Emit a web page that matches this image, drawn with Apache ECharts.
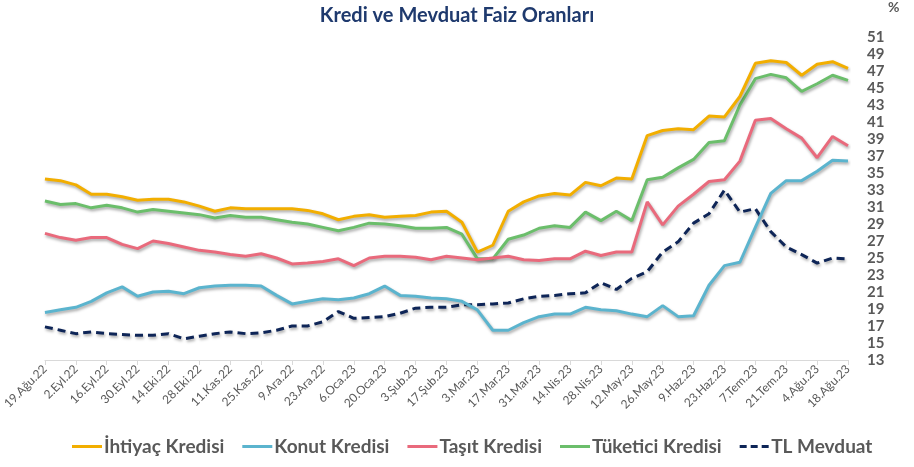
<!DOCTYPE html>
<html>
<head>
<meta charset="utf-8">
<script src="https://cdn.jsdelivr.net/npm/echarts@6/dist/echarts.min.js"></script>
<style>
  html, body { margin: 0; padding: 0; background: #fff; }
  #chart { width: 914px; height: 467px; }
</style>
</head>
<body>
<div id="chart"></div>
<script>
// Weekly dates, 19 Aug 2022 – 18 Aug 2023
const dates = [
  '19.Ağu.22','26.Ağu.22','2.Eyl.22','9.Eyl.22','16.Eyl.22','23.Eyl.22','30.Eyl.22','7.Eki.22','14.Eki.22','21.Eki.22',
  '28.Eki.22','4.Kas.22','11.Kas.22','18.Kas.22','25.Kas.22','2.Ara.22','9.Ara.22','16.Ara.22','23.Ara.22','30.Ara.22',
  '6.Oca.23','13.Oca.23','20.Oca.23','27.Oca.23','3.Şub.23','10.Şub.23','17.Şub.23','24.Şub.23','3.Mar.23','10.Mar.23',
  '17.Mar.23','24.Mar.23','31.Mar.23','7.Nis.23','14.Nis.23','21.Nis.23','28.Nis.23','5.May.23','12.May.23','19.May.23',
  '26.May.23','2.Haz.23','9.Haz.23','16.Haz.23','23.Haz.23','30.Haz.23','7.Tem.23','14.Tem.23','21.Tem.23','28.Tem.23',
  '4.Ağu.23','11.Ağu.23','18.Ağu.23'
];

const ihtiyac = [
  34.3, 34.1, 33.6, 32.5, 32.5, 32.2, 31.8, 31.9, 31.9, 31.6,
  31.1, 30.5, 30.9, 30.8, 30.8, 30.8, 30.8, 30.6, 30.2, 29.5,
  29.9, 30.1, 29.8, 29.9, 30.0, 30.4, 30.5, 29.2, 25.7, 26.5,
  30.5, 31.6, 32.3, 32.6, 32.4, 33.9, 33.5, 34.4, 34.3, 39.4,
  40.0, 40.2, 40.1, 41.7, 41.6, 44.0, 47.9, 48.2, 48.0, 46.5,
  47.8, 48.1, 47.3
];

const konut = [
  18.6, 18.9, 19.2, 19.9, 20.9, 21.6, 20.5, 21.0, 21.1, 20.8,
  21.5, 21.7, 21.8, 21.8, 21.7, 20.6, 19.6, 19.9, 20.2, 20.1,
  20.3, 20.8, 21.7, 20.6, 20.5, 20.3, 20.2, 19.9, 18.9, 16.5,
  16.5, 17.4, 18.1, 18.4, 18.4, 19.2, 18.9, 18.8, 18.4, 18.1,
  19.4, 18.1, 18.2, 21.8, 24.1, 24.5, 28.6, 32.6, 34.1, 34.1,
  35.2, 36.5, 36.4
];

const tasit = [
  27.9, 27.4, 27.1, 27.4, 27.4, 26.6, 26.1, 27.0, 26.7, 26.3,
  25.9, 25.7, 25.4, 25.2, 25.5, 25.0, 24.3, 24.4, 24.6, 24.9,
  24.1, 25.0, 25.2, 25.2, 25.1, 24.8, 25.2, 25.0, 24.8, 25.0,
  25.2, 24.8, 24.7, 24.9, 24.9, 25.8, 25.3, 25.7, 25.7, 31.6,
  28.9, 31.1, 32.5, 34.0, 34.2, 36.4, 41.2, 41.4, 40.2, 39.1,
  36.8, 39.3, 38.2
];

const tuketici = [
  31.7, 31.3, 31.4, 30.9, 31.2, 30.9, 30.4, 30.7, 30.5, 30.3,
  30.1, 29.7, 30.0, 29.8, 29.8, 29.5, 29.2, 29.0, 28.6, 28.2,
  28.6, 29.1, 29.0, 28.8, 28.5, 28.5, 28.6, 27.8, 24.9, 24.9,
  27.2, 27.7, 28.5, 28.8, 28.6, 30.4, 29.4, 30.5, 29.4, 34.2,
  34.5, 35.6, 36.6, 38.6, 38.8, 43.0, 46.1, 46.6, 46.2, 44.6,
  45.5, 46.5, 45.9
];

const tlMevduat = [
  16.9, 16.5, 16.1, 16.3, 16.1, 16.0, 15.9, 15.9, 16.1, 15.5,
  15.8, 16.1, 16.3, 16.1, 16.2, 16.5, 17.0, 17.0, 17.5, 18.7,
  17.9, 18.0, 18.1, 18.5, 19.1, 19.2, 19.2, 19.5, 19.5, 19.6,
  19.7, 20.2, 20.5, 20.6, 20.8, 20.9, 22.1, 21.3, 22.6, 23.4,
  25.7, 26.9, 29.1, 30.2, 33.0, 30.4, 30.8, 28.1, 26.3, 25.4,
  24.4, 25.0, 24.9
];

const seriesNames = ['İhtiyaç Kredisi', 'Konut Kredisi', 'Taşıt Kredisi', 'Tüketici Kredisi', 'TL Mevduat'];
const seriesData = [ihtiyac, konut, tasit, tuketici, tlMevduat];
const seriesColors = ['#F2AE00', '#5BB4CE', '#E96A7C', '#6BBE6B', '#0E2557'];

const FONT = 'Lato, "Open Sans", sans-serif';
const GREY = '#595959';

const chart = echarts.init(document.getElementById('chart'), null, { renderer: 'canvas' });

chart.setOption({
  backgroundColor: '#ffffff',
  animation: false,
  title: {
    text: 'Kredi ve Mevduat Faiz Oranları',
    left: 'center',
    top: 1,
    textStyle: { fontFamily: FONT, fontSize: 20, fontWeight: 'bold', color: '#1F3A6E' }
  },
  graphic: [{
    type: 'text',
    left: 888,
    top: 0,
    style: { text: '%', font: 'bold 14px ' + FONT, fill: GREY }
  }],
  legend: {
    bottom: 6,
    left: 67,
    itemWidth: 30,
    itemHeight: 3,
    itemGap: 18,
    icon: 'path://M0,0 L30,0 L30,3 L0,3 Z',
    textStyle: { fontFamily: FONT, fontSize: 19, fontWeight: 'bold', color: GREY, padding: [0, 0, 0, -3] },
    data: seriesNames.slice(0, 4).map(n => ({ name: n })).concat([{
      name: 'TL Mevduat',
      icon: 'path://M0,0 L7,0 L7,3 L0,3 Z M11,0 L18,0 L18,3 L11,3 Z M22,0 L29,0 L29,3 L22,3 Z'
    }])
  },
  grid: { left: 42, right: 66, top: 37, bottom: 107, containLabel: false },
  xAxis: {
    type: 'category',
    data: dates,
    boundaryGap: false,
    axisLine: { lineStyle: { color: '#D9D9D9', width: 1 } },
    axisTick: { interval: 1, length: 5, lineStyle: { color: '#D9D9D9' } },
    axisLabel: {
      interval: 1,
      rotate: 45,
      fontFamily: FONT,
      fontSize: 12,
      color: GREY,
      margin: 7
    },
    splitLine: { show: false }
  },
  yAxis: {
    type: 'value',
    position: 'right',
    min: 13,
    max: 51,
    interval: 2,
    axisLine: { show: false },
    axisTick: { show: false },
    splitLine: { show: false },
    axisLabel: {
      fontFamily: FONT,
      fontSize: 15,
      fontWeight: 'bold',
      color: GREY,
      margin: 19
    }
  },
  series: seriesNames.map((name, k) => ({
    name: name,
    type: 'line',
    data: seriesData[k],
    symbol: 'none',
    smooth: false,
    color: seriesColors[k],
    lineStyle: {
      width: 3,
      color: seriesColors[k],
      type: k === 4 ? [8, 5] : 'solid',
      shadowColor: 'rgba(0,0,0,0.35)',
      shadowBlur: 3,
      shadowOffsetX: 1,
      shadowOffsetY: 2
    },
    z: 10 - k
  }))
});
</script>
</body>
</html>
